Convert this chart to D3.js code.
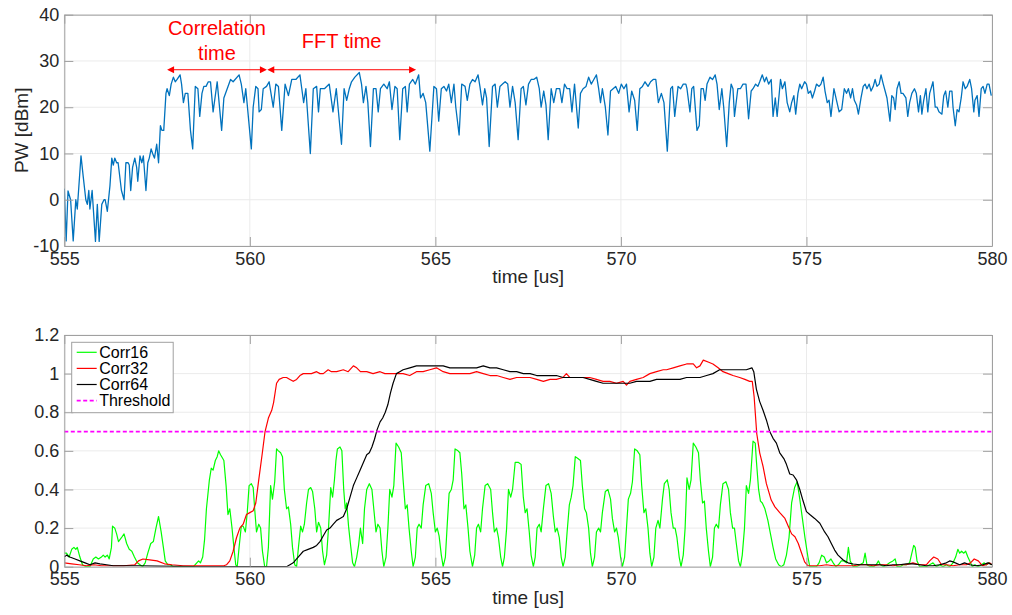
<!DOCTYPE html>
<html>
<head>
<meta charset="utf-8">
<script src="https://d3js.org/d3.v7.min.js"></script>
<style>
  body { margin: 0; background: #fff; }
</style>
</head>
<body>
<script>
// ---- data: [time (us), value] ----
const pw = [[555.00,2.4],[555.05,-8.9],[555.10,1.9],[555.17,0],[555.24,-8.9],[555.31,0],[555.35,-2],[555.45,9.5],[555.51,5],[555.58,0],[555.62,-1],[555.66,2],[555.69,-2],[555.75,2],[555.84,-9],[555.89,-1],[555.94,-9],[556.01,-1],[556.07,0],[556.10,0],[556.16,-2.5],[556.23,3],[556.28,9],[556.32,7.5],[556.36,9],[556.41,8],[556.45,8],[556.54,2],[556.61,0],[556.66,8],[556.72,8],[556.75,7.5],[556.79,2],[556.84,7],[556.90,9],[556.95,7],[556.98,4],[557.04,9.5],[557.09,8],[557.13,9.5],[557.20,2],[557.25,8],[557.29,9],[557.34,11],[557.38,10],[557.43,9],[557.49,12],[557.54,8],[557.59,16],[557.63,15],[557.68,15],[557.74,23],[557.77,24],[557.83,22.5],[557.88,25],[557.94,26.5],[557.99,25.5],[558.04,26],[558.12,27],[558.16,25],[558.21,21],[558.26,23],[558.33,23],[558.40,15],[558.46,11],[558.53,24.5],[558.60,24],[558.65,18],[558.71,23],[558.76,24.5],[558.82,24.5],[558.88,25.5],[558.94,25.5],[559.01,19],[559.12,25.5],[559.24,15],[559.30,22],[559.39,24],[559.48,26],[559.55,25.5],[559.71,27],[559.77,25],[559.84,21],[559.89,24],[560.04,11],[560.09,20],[560.16,24.5],[560.22,24],[560.25,19],[560.31,19.5],[560.36,24],[560.45,24.5],[560.52,25.5],[560.63,20],[560.70,25],[560.77,24.5],[560.86,15],[560.95,25],[561.04,22.5],[561.13,26],[561.24,26],[561.35,27],[561.40,24],[561.45,21],[561.51,24],[561.63,10],[561.71,24],[561.80,24.5],[561.85,19],[561.90,24],[562.01,24],[562.14,25],[562.24,19],[562.33,24],
[562.47,12],[562.54,24],[562.61,21.5],[562.68,24],[562.74,25.5],[562.83,26.5],[562.95,27.5],[563.01,25],[563.06,21],[563.13,24.5],[563.18,21],[563.25,11.5],[563.33,24],[563.40,24],[563.46,19],[563.52,24],[563.61,25],[563.70,24],[563.76,25.5],[563.83,19.5],[563.91,24.5],[563.97,24],[564.04,13],[564.12,24],[564.19,24.5],[564.24,19],[564.30,25],[564.39,26],[564.46,25],[564.55,27],[564.60,22],[564.67,23],[564.74,21],[564.85,10.5],[564.96,24.5],[565.03,24],[565.09,17],[565.16,24],[565.23,24.5],[565.30,23.5],[565.36,25],[565.43,21],[565.50,25],[565.55,20],[565.64,14],[565.71,25],[565.80,24.5],[565.86,21.5],[565.93,25],[566.00,26],[566.07,25.5],[566.15,27],[566.20,24.5],[566.27,20.5],[566.33,24],[566.38,22],[566.45,11.5],[566.54,24.5],[566.61,25],[566.67,20],[566.74,24.5],[566.81,25],[566.88,25.5],[566.95,25],[567.01,20],[567.08,24.5],[567.15,21],[567.23,13],[567.31,24],[567.37,24.5],[567.44,20.5],[567.51,25],[567.58,26],[567.65,26],[567.73,26.5],[567.80,24],[567.85,20],[567.92,23.5],[567.98,20.5],[568.04,13],[568.12,24],[568.19,21],[568.26,24],[568.35,24],[568.41,21],[568.48,25],[568.55,24],[568.62,24],[568.68,19],[568.75,25],[568.85,15.5],[568.91,23],[568.98,24],[569.06,24.5],[569.13,26.5],[569.20,25],[569.27,26],[569.34,27],[569.40,24],[569.45,21],[569.50,24],[569.58,20],[569.65,14],[569.72,23.5],[569.79,24],[569.86,24.5],[569.94,23],[570.01,25],[570.08,24],[570.15,25],[570.22,19],[570.29,23.5],[570.37,21.5],[570.44,15],[570.51,24],[570.58,24.5],[570.65,25.5],[570.73,24.5],[570.80,25.5],[570.87,26],[570.94,26],[571.01,21],[571.09,23],[571.16,21],
[571.25,10.5],[571.34,24],[571.39,24.5],[571.45,18],[571.54,24.5],[571.61,24],[571.68,25],[571.75,25],[571.78,24],[571.86,19],[571.91,24],[571.96,24.5],[572.05,15],[572.11,16],[572.16,24],[572.22,24],[572.27,21.5],[572.32,25],[572.40,26.5],[572.47,26],[572.54,27],[572.59,25],[572.65,19.5],[572.72,24],[572.77,20],[572.85,11.5],[572.92,21],[572.97,25],[573.02,24],[573.06,18],[573.15,24],[573.22,24],[573.29,25],[573.37,25],[573.44,17.5],[573.51,23.5],[573.56,24],[573.63,25],[573.69,24.5],[573.74,25.5],[573.81,27],[573.87,25.5],[573.92,26.5],[573.98,25],[574.05,26],[574.10,18],[574.16,22],[574.21,18],[574.30,26],[574.35,24],[574.42,25.5],[574.48,21],[574.55,19],[574.60,21],[574.66,22.5],[574.71,18.5],[574.77,23],[574.82,25],[574.87,24],[574.95,25.5],[575.00,25],[575.05,23],[575.11,23.5],[575.16,22],[575.22,23.5],[575.27,25],[575.34,24.5],[575.39,25],[575.45,26.5],[575.50,23.5],[575.56,21],[575.61,21.5],[575.66,18],[575.74,24],[575.81,21.5],[575.88,19],[575.95,19.5],[576.02,24],[576.08,23],[576.13,24],[576.19,22],[576.24,24],[576.29,21.5],[576.35,20.5],[576.40,18.5],[576.47,22],[576.53,24.5],[576.58,25],[576.63,24],[576.69,25],[576.74,23.5],[576.80,24.5],[576.85,26],[576.90,24.5],[576.96,25],[577.01,27],[577.07,25],[577.12,23.5],[577.17,22],[577.25,17],[577.30,22.5],[577.35,22],[577.39,19.5],[577.44,24],[577.50,25.5],[577.55,23],[577.60,23],[577.68,22],[577.73,18],[577.78,21],[577.84,23],[577.91,24],[577.96,23],[578.02,19],[578.07,22.5],[578.11,18.5],[578.16,21.5],[578.22,24],[578.27,19],[578.32,23],[578.41,25.5],[578.47,20],[578.52,20],[578.57,19],[578.65,18.5],[578.70,22.5],[578.75,23.5],[578.81,20],[578.86,23.5],[578.92,23.5],[578.95,20],[579.01,16],[579.06,19.5],[579.11,19],[579.17,22],[579.22,25.5],[579.28,24],[579.33,24.5],[579.40,26],[579.45,24],[579.51,19],[579.54,21.5],[579.60,22.5],[579.65,18],[579.71,24],[579.76,24.5],[579.81,23],[579.87,25],[579.92,25],[579.98,22.5]];

const corr16 = [[555.00,0.07],[555.06,0.07],[555.13,0.05],[555.20,0.09],[555.26,0.10],[555.31,0.09],[555.35,0.10],[555.42,0.05],[555.49,0.01],[555.58,0],[555.69,0],[555.78,0.04],[555.85,0.05],[555.92,0.04],[556.00,0.05],[556.05,0.06],[556.10,0.05],[556.16,0.06],[556.21,0.04],[556.27,0.10],[556.30,0.21],[556.36,0.20],[556.41,0.17],[556.46,0.13],[556.54,0.15],[556.61,0.17],[556.68,0.12],[556.75,0.09],[556.82,0.08],[556.89,0.05],[556.97,0.02],[557.04,0.01],[557.11,0],[557.18,0.02],[557.25,0.07],[557.33,0.12],[557.40,0.13],[557.47,0.20],[557.54,0.26],[557.61,0.18],[557.67,0.10],[557.72,0.03],[557.79,0.01],[557.86,0.01],[557.94,0],[558.12,0],[558.30,0],[558.48,0],[558.57,0.02],[558.62,0.03],[558.67,0.02],[558.73,0.05],[558.78,0.14],[558.83,0.30],[558.91,0.45],[558.96,0.51],[559.01,0.50],[559.07,0.55],[559.12,0.57],[559.16,0.60],[559.21,0.58],[559.27,0.56],[559.30,0.55],[559.36,0.42],[559.41,0.27],[559.46,0.30],[559.52,0.20],[559.57,0.10],[559.62,0.01],[559.66,0],[559.71,0.10],[559.77,0.21],[559.82,0.21],[559.88,0.18],[559.93,0.28],[559.98,0.42],[560.04,0.43],[560.09,0.41],[560.13,0.30],[560.18,0.18],[560.24,0.22],[560.29,0.20],[560.34,0.08],[560.40,0],[560.45,0],[560.50,0.10],[560.56,0.42],[560.61,0.35],[560.67,0.44],[560.72,0.61],[560.77,0.60],[560.83,0.59],[560.88,0.57],[560.93,0.40],[560.99,0.30],[561.04,0.31],[561.10,0.22],[561.15,0.10],[561.21,0.01],[561.26,0],[561.31,0.10],[561.37,0.21],[561.42,0.18],[561.47,0.22],[561.53,0.33],[561.58,0.40],[561.64,0.41],[561.69,0.39],[561.75,0.30],[561.80,0.18],[561.85,0.23],[561.91,0.20],[561.96,0.08],[562.01,0.01],[562.07,0.06],[562.12,0.20],[562.18,0.41],[562.23,0.36],[562.28,0.45],
[562.32,0.55],[562.36,0.61],[562.43,0.62],[562.48,0.60],[562.53,0.40],[562.57,0.30],[562.61,0.33],[562.66,0.21],[562.71,0.12],[562.77,0.02],[562.82,0],[562.88,0.05],[562.93,0.11],[562.98,0.20],[563.04,0.12],[563.09,0.30],[563.15,0.40],[563.22,0.43],[563.29,0.40],[563.34,0.30],[563.40,0.18],[563.45,0.22],[563.51,0.20],[563.56,0.08],[563.61,0],[563.67,0.05],[563.72,0.20],[563.77,0.40],[563.83,0.36],[563.88,0.42],[563.94,0.64],[564.01,0.62],[564.08,0.59],[564.13,0.45],[564.19,0.30],[564.24,0.32],[564.29,0.20],[564.35,0.08],[564.40,0],[564.46,0.05],[564.51,0.20],[564.56,0.22],[564.62,0.20],[564.67,0.32],[564.74,0.42],[564.82,0.43],[564.89,0.38],[564.94,0.28],[565.00,0.18],[565.05,0.20],[565.10,0.16],[565.16,0.06],[565.21,0],[565.27,0.05],[565.32,0.22],[565.37,0.38],[565.43,0.40],[565.48,0.45],[565.53,0.61],[565.61,0.60],[565.66,0.59],[565.71,0.48],[565.77,0.30],[565.82,0.32],[565.88,0.20],[565.93,0.08],[566.00,0],[566.06,0.06],[566.11,0.20],[566.16,0.22],[566.22,0.18],[566.27,0.30],[566.34,0.42],[566.41,0.43],[566.49,0.40],[566.54,0.28],[566.59,0.18],[566.65,0.20],[566.70,0.15],[566.76,0.05],[566.81,0],[566.86,0.05],[566.92,0.20],[566.97,0.40],[567.03,0.36],[567.08,0.40],[567.15,0.54],[567.24,0.54],[567.31,0.53],[567.37,0.36],[567.42,0.28],[567.47,0.30],[567.53,0.18],[567.58,0.06],[567.64,0],[567.69,0.05],[567.74,0.20],[567.80,0.22],[567.85,0.18],[567.91,0.30],[567.98,0.42],[568.05,0.43],[568.12,0.38],[568.18,0.26],[568.23,0.18],[568.28,0.20],[568.34,0.15],[568.39,0.05],[568.44,0],[568.50,0.05],[568.55,0.18],[568.61,0.32],[568.66,0.36],[568.71,0.42],[568.77,0.57],[568.84,0.56],[568.91,0.55],[568.96,0.42],[569.02,0.30],[569.07,0.28],[569.13,0.20],[569.18,0.07],[569.23,0],[569.29,0.05],[569.34,0.18],[569.40,0.20],[569.45,0.18],[569.50,0.28],[569.58,0.39],[569.65,0.40],[569.72,0.35],[569.77,0.25],[569.83,0.18],[569.88,0.20],[569.93,0.15],[569.99,0.05],[570.04,0],[570.10,0.05],[570.15,0.20],[570.20,0.35],[570.26,0.38],[570.31,0.44],[570.37,0.61],[570.44,0.60],[570.51,0.58],[570.56,0.42],[570.62,0.28],[570.67,0.30],[570.73,0.20],[570.78,0.07],[570.83,0],[570.89,0.05],[570.94,0.20],[571.00,0.24],[571.05,0.20],[571.12,0.35],[571.17,0.43],[571.25,0.45],
[571.30,0.40],[571.35,0.28],[571.41,0.20],[571.46,0.20],[571.51,0.15],[571.57,0.05],[571.62,0],[571.68,0.06],[571.73,0.20],[571.78,0.46],[571.84,0.40],[571.89,0.45],[571.95,0.64],[572.02,0.62],[572.09,0.59],[572.14,0.45],[572.20,0.33],[572.25,0.34],[572.30,0.20],[572.36,0.08],[572.41,0],[572.47,0.05],[572.52,0.20],[572.57,0.22],[572.63,0.20],[572.68,0.32],[572.75,0.43],[572.83,0.44],[572.90,0.40],[572.95,0.28],[573.01,0.20],[573.06,0.20],[573.11,0.12],[573.17,0.03],[573.22,0],[573.27,0.06],[573.33,0.20],[573.38,0.42],[573.44,0.38],[573.49,0.45],[573.56,0.65],[573.62,0.64],[573.65,0.55],[573.71,0.40],[573.76,0.34],[573.81,0.33],[573.88,0.30],[573.96,0.24],[574.03,0.17],[574.10,0.10],[574.17,0.04],[574.25,0.01],[574.32,0],[574.39,0.01],[574.46,0.06],[574.53,0.15],[574.60,0.33],[574.68,0.41],[574.75,0.44],[574.82,0.35],[574.89,0.25],[574.96,0.15],[575.04,0.05],[575.09,0],[575.18,0],[575.27,0],[575.34,0.02],[575.41,0.06],[575.48,0.05],[575.54,0.02],[575.61,0.03],[575.66,0.04],[575.72,0.02],[575.79,0],[575.86,0.01],[575.94,0.03],[576.00,0.03],[576.08,0.02],[576.13,0.10],[576.18,0.03],[576.26,0],[576.35,0],[576.44,0.01],[576.53,0.02],[576.58,0.07],[576.63,0.01],[576.72,0],[576.81,0],[576.88,0.01],[576.94,0.03],[576.99,0.01],[577.08,0],[577.17,0.01],[577.24,0.02],[577.33,0.03],[577.39,0.04],[577.44,0],[577.53,0],[577.60,0.01],[577.69,0.01],[577.78,0.02],[577.84,0.07],[577.89,0.11],[577.93,0.10],[577.98,0.03],[578.05,0],[578.14,0],[578.23,0],[578.32,0.01],[578.41,0.02],[578.50,0],[578.59,0.01],[578.68,0],[578.77,0.01],[578.86,0],[578.95,0.02],[579.02,0.05],[579.08,0.09],[579.13,0.07],[579.18,0.08],[579.24,0.07],[579.29,0.08],[579.35,0.05],[579.40,0.03],[579.47,0],[579.54,0.01],[579.63,0],[579.72,0.01],[579.79,0.02],[579.85,0.01],[579.92,0.02],[579.98,0.01]];

const corr32 = [[555.00,0.02],[555.20,0.015],[555.40,0.01],[555.60,0.005],[555.80,0.01],[556.00,0.005],[556.30,0.005],[556.60,0.005],[556.90,0.01],[557.00,0.03],[557.12,0.04],[557.30,0.035],[557.50,0.03],[557.70,0.015],[557.90,0.01],[558.20,0.005],[558.60,0.005],[559.00,0.005],[559.30,0.005],[559.37,0.01],[559.46,0.03],[559.55,0.08],[559.64,0.15],[559.73,0.20],[559.82,0.22],[559.91,0.27],[560.00,0.28],[560.09,0.29],[560.16,0.33],[560.24,0.45],[560.33,0.58],[560.41,0.70],[560.50,0.77],[560.59,0.81],[560.64,0.85],[560.72,0.95],[560.79,0.97],[560.90,0.98],[560.99,0.98],[561.08,0.97],[561.17,0.96],[561.26,0.97],[561.35,0.99],[561.44,1.00],[561.53,1.00],[561.66,1.00],[561.80,1.01],[561.89,1.00],[561.98,1.00],[562.11,1.02],[562.20,1.01],[562.34,1.01],[562.52,1.02],[562.65,1.01],[562.79,1.04],[562.88,1.03],[562.98,1.01],[563.15,1.01],[563.32,1.00],[563.51,1.01],[563.64,1.00],[563.77,1.00],[563.95,1.00],[564.13,1.00],[564.31,0.99],[564.49,1.01],[564.67,1.01],[564.85,1.02],[565.03,1.03],[565.21,1.01],[565.39,1.00],[565.57,1.00],[565.75,1.00],[565.93,1.00],[566.11,1.01],[566.29,1.00],[566.47,0.99],[566.65,0.99],[566.83,0.98],[567.01,0.97],[567.19,0.98],[567.37,0.98],[567.55,0.98],[567.73,0.97],[567.91,0.96],[568.09,0.97],[568.26,0.97],[568.44,0.98],[568.53,1.00],[568.62,0.98],[568.80,0.98],[568.98,0.98],[569.16,0.98],[569.34,0.97],[569.52,0.96],[569.70,0.96],[569.88,0.95],[570.06,0.96],[570.15,0.94],[570.24,0.96],[570.42,0.97],[570.60,0.98],[570.78,1.00],[570.96,1.01],[571.14,1.02],[571.23,1.02],[571.41,1.03],[571.59,1.04],[571.77,1.05],[571.95,1.05],[572.04,1.03],[572.13,1.04],[572.22,1.07],[572.35,1.06],[572.48,1.05],[572.62,1.03],[572.75,1.01],[572.89,1.00],[573.02,0.99],[573.20,0.98],[573.34,0.97],[573.47,0.96],[573.54,0.96],[573.59,0.88],[573.66,0.69],[573.74,0.59],[573.83,0.52],[573.92,0.43],[574.05,0.345],[574.15,0.31],[574.28,0.28],[574.42,0.25],[574.51,0.21],[574.60,0.17],[574.69,0.155],[574.78,0.12],[574.87,0.07],[574.95,0.025],[575.04,0.005],[575.18,0.005],[575.36,0.005],[575.54,0.01],[575.72,0.005],[575.90,0.005],[576.08,0.005],[576.26,0.005],[576.44,0.01],[576.62,0.01],[576.80,0.005],[576.98,0.01],[577.15,0.01],[577.33,0.005],[577.51,0.01],[577.69,0.01],[577.87,0.02],[578.05,0.01],[578.23,0.01],[578.32,0.03],[578.43,0.05],[578.54,0.04],[578.64,0.01],[578.77,0.01],[578.95,0.005],[579.13,0.01],[579.31,0.01],[579.42,0.02],[579.52,0.04],[579.63,0.03],[579.74,0.005],[579.85,0.01],[579.94,0.02],[580.00,0.01]];

const corr64 = [[555.00,0.05],[555.06,0.06],[555.15,0.05],[555.29,0.04],[555.42,0.03],[555.56,0.02],[555.69,0.01],[555.83,0.02],[555.96,0.015],[556.14,0.01],[556.32,0.005],[556.70,0.005],[557.00,0.005],[557.50,0.003],[558.00,0.002],[558.50,0.001],[559.00,0],[559.50,0],[560.00,0],[560.50,0],[560.99,0],[561.08,0.01],[561.17,0.02],[561.26,0.04],[561.35,0.06],[561.44,0.08],[561.57,0.09],[561.71,0.10],[561.80,0.11],[561.89,0.13],[561.98,0.16],[562.07,0.19],[562.16,0.20],[562.25,0.22],[562.34,0.24],[562.43,0.25],[562.52,0.26],[562.61,0.30],[562.70,0.36],[562.79,0.42],[562.88,0.46],[562.97,0.50],[563.06,0.54],[563.15,0.58],[563.22,0.59],[563.29,0.62],[563.36,0.66],[563.43,0.71],[563.51,0.75],[563.58,0.77],[563.65,0.80],[563.72,0.84],[563.79,0.90],[563.86,0.95],[563.95,1.00],[564.04,1.01],[564.13,1.02],[564.31,1.03],[564.49,1.04],[564.67,1.04],[564.85,1.04],[565.03,1.04],[565.21,1.04],[565.39,1.03],[565.57,1.03],[565.75,1.03],[565.93,1.03],[566.11,1.03],[566.29,1.04],[566.47,1.03],[566.65,1.03],[566.83,1.02],[567.01,1.01],[567.19,1.01],[567.37,1.00],[567.55,1.00],[567.73,0.99],[567.91,0.99],[568.09,0.99],[568.26,0.99],[568.44,0.98],[568.62,0.98],[568.80,0.98],[568.98,0.98],[569.16,0.97],[569.34,0.96],[569.52,0.95],[569.70,0.95],[569.88,0.95],[570.06,0.95],[570.24,0.95],[570.42,0.96],[570.60,0.96],[570.78,0.96],[570.96,0.97],[571.14,0.97],[571.23,0.97],[571.41,0.97],[571.59,0.97],[571.77,0.98],[571.95,0.98],[572.13,0.98],[572.31,0.99],[572.48,1.00],[572.66,1.02],[572.84,1.02],[573.02,1.02],[573.20,1.02],[573.38,1.02],[573.53,1.03],[573.58,1.01],[573.65,0.92],[573.74,0.855],[573.83,0.81],[573.92,0.76],[574.01,0.70],[574.10,0.665],[574.19,0.64],[574.28,0.59],[574.39,0.56],[574.46,0.53],[574.55,0.48],[574.64,0.475],[574.73,0.45],[574.82,0.40],[574.91,0.34],[575.00,0.285],[575.09,0.27],[575.22,0.25],[575.36,0.225],[575.49,0.18],[575.58,0.155],[575.67,0.12],[575.76,0.086],[575.85,0.06],[575.99,0.035],[576.12,0.02],[576.26,0.014],[576.44,0.01],[576.62,0.01],[576.80,0.01],[576.98,0.01],[577.15,0.005],[577.33,0.01],[577.51,0.01],[577.69,0.015],[577.87,0.015],[578.05,0.01],[578.23,0.005],[578.41,0.005],[578.59,0.01],[578.77,0.02],[578.86,0.03],[578.95,0.025],[579.13,0.01],[579.26,0.02],[579.40,0.01],[579.58,0.005],[579.76,0.01],[579.89,0.02],[580.00,0.01]];

const threshold = 0.7;
const xTicks = [555, 560, 565, 570, 575, 580];
const pwTicks = [-10, 0, 10, 20, 30, 40];
const corrTicks = [0, 0.2, 0.4, 0.6, 0.8, 1, 1.2];
const legendLabels = ["Corr16", "Corr32", "Corr64", "Threshold"];
const legendColors = ["#00ff00", "#ff0000", "#000000", "#ff00ff"];
const corrSpan = [557.77, 560.46];   // "Correlation time" arrow
const fftSpan = [560.47, 564.48];    // "FFT time" arrow

// ---- layout ----
const FONT = '"Liberation Sans", Arial, Helvetica, sans-serif';
const W = 1012, H = 615;
const left = 64.3, right = 992;
const boxColor = "#a0a0a0", gridColor = "#ebebeb", textColor = "#262626";

const svg = d3.select("body").append("svg")
    .attr("width", W).attr("height", H)
    .style("font-family", FONT);

const x = d3.scaleLinear().domain([555, 580]).range([left, right]);
const yPw = d3.scaleLinear().domain([-10, 40]).range([246, 14.7]);
const yCorr = d3.scaleLinear().domain([0, 1.2]).range([566.7, 335]);

function frame(y, yTicks, name) {
    const [bottom, top] = y.range();
    const g = svg.append("g");
    g.selectAll("line.vg").data(xTicks).join("line").attr("class", "vg")
        .attr("x1", d => x(d)).attr("x2", d => x(d))
        .attr("y1", top).attr("y2", bottom)
        .attr("stroke", gridColor);
    g.selectAll("line.hg").data(yTicks).join("line").attr("class", "hg")
        .attr("x1", left).attr("x2", right)
        .attr("y1", d => y(d)).attr("y2", d => y(d))
        .attr("stroke", gridColor);
    svg.append("clipPath").attr("id", name)
        .append("rect").attr("x", left).attr("y", top)
        .attr("width", right - left).attr("height", bottom - top);
}

function axes(y, yTicks, xLabel, yLabel) {
    const [bottom, top] = y.range();
    const tk = 9;
    const g = svg.append("g");
    g.append("g").attr("transform", `translate(0,${bottom})`)
        .call(d3.axisBottom(x).tickValues(xTicks).tickSize(-tk).tickSizeOuter(0).tickPadding(6));
    g.append("g").attr("transform", `translate(0,${top})`)
        .call(d3.axisTop(x).tickValues(xTicks).tickSize(-tk).tickSizeOuter(0).tickFormat(""));
    g.append("g").attr("transform", `translate(${left},0)`)
        .call(d3.axisLeft(y).tickValues(yTicks).tickSize(-tk).tickSizeOuter(0).tickPadding(5).tickFormat(d => String(d)));
    g.append("g").attr("transform", `translate(${right},0)`)
        .call(d3.axisRight(y).tickValues(yTicks).tickSize(-tk).tickSizeOuter(0).tickFormat(""));
    g.selectAll("g").attr("font-family", FONT).attr("font-size", 18);
    g.selectAll(".domain").attr("stroke", boxColor);
    g.selectAll(".tick line").attr("stroke", boxColor);
    g.selectAll(".tick text").attr("fill", textColor);

    svg.append("text")
        .attr("x", (left + right) / 2).attr("y", bottom + 37)
        .attr("text-anchor", "middle").attr("font-size", 19).attr("fill", textColor)
        .text(xLabel);
    if (yLabel) {
        svg.append("text")
            .attr("transform", `translate(28,${(top + bottom) / 2}) rotate(-90)`)
            .attr("text-anchor", "middle").attr("font-size", 19).attr("fill", textColor)
            .text(yLabel);
    }
}

// ---- top panel: power ----
frame(yPw, pwTicks, "clipTop");
svg.append("path").datum(pw)
    .attr("clip-path", "url(#clipTop)")
    .attr("fill", "none").attr("stroke", "#0072bd").attr("stroke-width", 1.3)
    .attr("stroke-linejoin", "round")
    .attr("d", d3.line().x(d => x(d[0])).y(d => yPw(d[1])));
axes(yPw, pwTicks, "time [us]", "PW [dBm]");

// annotations
const red = "#ff0000";
const arrowY = yPw(28.1);
function arrow(span) {
    const x0 = x(span[0]), x1 = x(span[1]);
    svg.append("line").attr("x1", x0 + 4).attr("x2", x1 - 4)
        .attr("y1", arrowY).attr("y2", arrowY)
        .attr("stroke", red).attr("stroke-width", 1);
    svg.append("path").attr("fill", red)
        .attr("d", `M${x0},${arrowY} l7,-3.5 v7 Z M${x1},${arrowY} l-7,-3.5 v7 Z`);
}
arrow(corrSpan);
arrow(fftSpan);
svg.append("text").attr("x", x(d3.mean(corrSpan))).attr("y", yPw(35.6))
    .attr("text-anchor", "middle").attr("font-size", 20).attr("fill", red).text("Correlation");
svg.append("text").attr("x", x(d3.mean(corrSpan))).attr("y", yPw(30.2))
    .attr("text-anchor", "middle").attr("font-size", 20).attr("fill", red).text("time");
svg.append("text").attr("x", x(d3.mean(fftSpan))).attr("y", yPw(32.9))
    .attr("text-anchor", "middle").attr("font-size", 20).attr("fill", red).text("FFT time");

// ---- bottom panel: correlations ----
frame(yCorr, corrTicks, "clipBot");
const corrLine = d3.line().x(d => x(d[0])).y(d => yCorr(d[1]));
const series = [corr16, corr32, corr64];
svg.append("g").attr("clip-path", "url(#clipBot)")
    .selectAll("path").data(series).join("path")
    .attr("fill", "none")
    .attr("stroke", (d, i) => legendColors[i])
    .attr("stroke-width", 1.2)
    .attr("stroke-linejoin", "round")
    .attr("d", corrLine);
svg.append("line")
    .attr("x1", x(555)).attr("x2", x(580))
    .attr("y1", yCorr(threshold)).attr("y2", yCorr(threshold))
    .attr("stroke", legendColors[3]).attr("stroke-width", 1.7)
    .attr("stroke-dasharray", "4,2.5");
axes(yCorr, corrTicks, "time [us]", null);

// legend
const lg = svg.append("g").attr("transform", "translate(71.7,342.3)");
lg.append("rect").attr("width", 101.5).attr("height", 70.4)
    .attr("fill", "#fff").attr("stroke", boxColor);
const rows = lg.selectAll("g").data(legendLabels).join("g")
    .attr("transform", (d, i) => `translate(0,${10 + i * 16.1})`);
rows.append("line").attr("x1", 5).attr("x2", 25)
    .attr("stroke", (d, i) => legendColors[i])
    .attr("stroke-width", (d, i) => i === 3 ? 1.7 : 1.2)
    .attr("stroke-dasharray", (d, i) => i === 3 ? "4,2.5" : null);
rows.append("text").attr("x", 27.5).attr("dy", "0.36em")
    .attr("font-size", 16).attr("fill", "#000").text(d => d);
</script>
</body>
</html>
